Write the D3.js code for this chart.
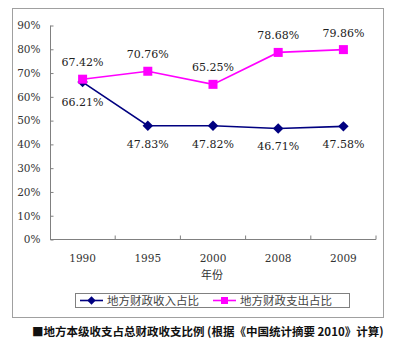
<!DOCTYPE html>
<html><head><meta charset="utf-8">
<script src="https://cdn.jsdelivr.net/npm/d3@7"></script>
<style>body{margin:0;background:#fff}svg{display:block}</style>
</head><body>
<svg id="c" width="400" height="342"></svg>
<script>
const categories = ["1990","1995","2000","2008","2009"];
const revenueShare = [66.21, 47.83, 47.82, 46.71, 47.58];
const expenditureShare = [67.42, 70.76, 65.25, 78.68, 79.86];
const yTicks = [0,10,20,30,40,50,60,70,80,90];
const seriesNames = ["地方财政收入占比","地方财政支出占比"];
const xTitle = "年份";
const caption = "■地方本级收支占总财政收支比例 (根据《中国统计摘要 2010》计算)";

const svg = d3.select("#c");
const numFont = "DejaVu Serif, serif";
const cjkFont = "Noto Sans CJK SC, sans-serif";

svg.append("rect").attr("x",12.5).attr("y",8.5).attr("width",371).attr("height",309)
  .attr("fill","none").attr("stroke","#a0a0a0").attr("stroke-width",1);

const x = d3.scaleBand().domain(categories).range([50,376]).padding(0);
const y = d3.scaleLinear().domain([0,90]).range([239.5,25.5]);

const yAxis = d3.axisLeft(y).tickValues(yTicks).tickSize(-3).tickPadding(10)
  .tickFormat(d=>d+"%");
const gy = svg.append("g").attr("transform","translate(50.5,0)").call(yAxis);
gy.selectAll("path,line").attr("stroke","#808080");
gy.select("path").attr("d","M0,25.5V239.5");
gy.selectAll("text").attr("font-family",numFont).attr("font-size",10.5).attr("fill","#333");

const gx = svg.append("g").attr("transform","translate(0,239.5)");
gx.append("line").attr("x1",50).attr("x2",376).attr("stroke","#808080");
gx.selectAll("line.t").data(categories).enter().append("line")
  .attr("x1",d=>x(d)+x.bandwidth()).attr("x2",d=>x(d)+x.bandwidth())
  .attr("y1",0).attr("y2",-4).attr("stroke","#808080");
gx.selectAll("text").data(categories).enter().append("text")
  .attr("x",d=>x(d)+x.bandwidth()/2).attr("y",22).attr("text-anchor","middle")
  .attr("font-family",numFont).attr("font-size",10.5).attr("fill","#333").text(d=>d);

svg.append("text").attr("x",212).attr("y",279).attr("text-anchor","middle")
  .attr("font-family",cjkFont).attr("font-size",11).attr("fill","#333").text(xTitle);

const cx = d => x(d)+x.bandwidth()/2;
const line = d3.line().x((v,i)=>cx(categories[i])).y(v=>y(v));

svg.append("path").attr("d",line(revenueShare)).attr("fill","none")
  .attr("stroke","#000080").attr("stroke-width",1.6);
svg.selectAll("path.dia").data(revenueShare).enter().append("path")
  .attr("d",d3.symbol(d3.symbolDiamond2,70))
  .attr("transform",(v,i)=>`translate(${cx(categories[i])},${y(v)})`)
  .attr("fill","#000080");

svg.append("path").attr("d",line(expenditureShare)).attr("fill","none")
  .attr("stroke","#FF00FF").attr("stroke-width",1.6);
svg.selectAll("rect.sq").data(expenditureShare).enter().append("rect")
  .attr("x",(v,i)=>cx(categories[i])-4.5).attr("y",v=>y(v)-4.5)
  .attr("width",9).attr("height",9).attr("fill","#FF00FF");

const fmt = v => v.toFixed(2)+"%";
svg.selectAll("text.el").data(expenditureShare).enter().append("text")
  .attr("x",(v,i)=>cx(categories[i])).attr("y",v=>y(v)-13)
  .attr("text-anchor","middle").attr("font-family",numFont).attr("font-size",11)
  .attr("fill","#222").text(fmt);
svg.selectAll("text.rl").data(revenueShare).enter().append("text")
  .attr("x",(v,i)=>cx(categories[i])).attr("y",(v,i)=>y(v)+ (i===0?24:22))
  .attr("text-anchor","middle").attr("font-family",numFont).attr("font-size",11)
  .attr("fill","#222").text(fmt);

svg.append("rect").attr("x",75.5).attr("y",293.5).attr("width",274).attr("height",14)
  .attr("fill","#fff").attr("stroke","#808080");
const lg = [{c:"#000080",x:80,sym:"d"},{c:"#FF00FF",x:213,sym:"s"}];
lg.forEach((L,i)=>{
  svg.append("line").attr("x1",L.x).attr("x2",L.x+23).attr("y1",300.5).attr("y2",300.5)
    .attr("stroke",L.c).attr("stroke-width",1.6);
  if(L.sym==="d") svg.append("path").attr("d",d3.symbol(d3.symbolDiamond2,45))
    .attr("transform",`translate(${L.x+11.5},300.5)`).attr("fill",L.c);
  else svg.append("rect").attr("x",L.x+8).attr("y",297).attr("width",7).attr("height",7).attr("fill",L.c);
  svg.append("text").attr("x",L.x+27).attr("y",305).attr("font-family",cjkFont)
    .attr("font-size",11.5).attr("fill","#444").text(seriesNames[i]);
});

svg.append("text").attr("x",32).attr("y",336).attr("font-family",cjkFont)
  .attr("font-size",11.5).attr("font-weight","bold").attr("fill","#111").text(caption);
</script>
</body></html>
